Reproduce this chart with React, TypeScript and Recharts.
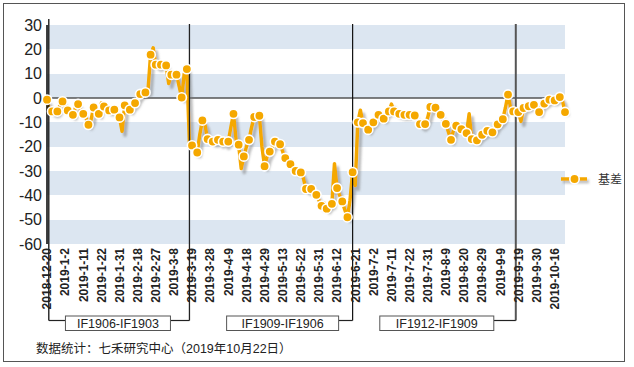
import { LineChart, Line, XAxis, YAxis, CartesianGrid, ReferenceLine } from 'recharts';

// trading days, month by month
const tradingMonths: [string, number[]][] = [
  ['2018-12', [20, 21, 24, 25, 26, 27, 28]],
  ['2019-1', [2, 3, 4, 7, 8, 9, 10, 11, 14, 15, 16, 17, 18, 21, 22, 23, 24, 25, 28, 29, 30, 31]],
  ['2019-2', [1, 11, 12, 13, 14, 15, 18, 19, 20, 21, 22, 25, 26, 27, 28]],
  ['2019-3', [1, 4, 5, 6, 7, 8, 11, 12, 13, 14, 15, 18, 19, 20, 21, 22, 25, 26, 27, 28, 29]],
  ['2019-4', [1, 2, 3, 4, 8, 9, 10, 11, 12, 15, 16, 17, 18, 19, 22, 23, 24, 25, 26, 29, 30]],
  ['2019-5', [6, 7, 8, 9, 10, 13, 14, 15, 16, 17, 20, 21, 22, 23, 24, 27, 28, 29, 30, 31]],
  ['2019-6', [3, 4, 5, 6, 10, 11, 12, 13, 14, 17, 18, 19, 20, 21, 24, 25, 26, 27, 28]],
  ['2019-7', [1, 2, 3, 4, 5, 8, 9, 10, 11, 12, 15, 16, 17, 18, 19, 22, 23, 24, 25, 26, 29, 30, 31]],
  ['2019-8', [1, 2, 5, 6, 7, 8, 9, 12, 13, 14, 15, 16, 19, 20, 21, 22, 23, 26, 27, 28, 29, 30]],
  ['2019-9', [2, 3, 4, 5, 6, 9, 10, 11, 12, 16, 17, 18, 19, 20, 23, 24, 25, 26, 27, 30]],
  ['2019-10', [8, 9, 10, 11, 14, 15, 16, 17, 18, 21, 22]],
];

// 基差
const basis = [
  -0.7, -5, -5.5, -6, -5.5, -3, -1.4, -4, -5.1, -6,
  -6.9, -4, -2.5, -5, -6.5, -8, -11, -9, -3.9, -5,
  -6.5, -2.1, -3.5, -4.5, -5.1, -5, -4.8, -6, -8, -13.7,
  -3, -4, -4.8, -3, -2.1, 0, 1.6, 2, 2.3, 3,
  17.8, 20.6, 13.7, 13, 13.7, 14.5, 13.4, 6, 9.6, 9.5,
  9.6, 5, 0.2, 10, 11.9, -19, -19.5, -22, -22.4, -15,
  -9.2, -11, -16.9, -17, -17.9, -18, -17.2, -18.5, -17.9, -19,
  -17.9, -12, -6.5, -17, -19.2, -29, -24, -20, -17.2, -12,
  -7.8, -7.5, -7.3, -20, -28, -24, -22, -20, -17.9, -19,
  -19, -22, -24.7, -26, -27.2, -29, -30, -30, -30.6, -33,
  -37.4, -38, -37.4, -38.5, -39.8, -42, -44.3, -43.2, -45.5, -44,
  -43.5, -27, -37, -40, -42.5, -46, -49, -42, -30.5, -36,
  -10, -5, -10.3, -11, -13, -11, -10, -8, -6.9, -7,
  -8.5, -6, -5.5, -2.5, -5.5, -6, -6.5, -7, -6.9, -7,
  -6.9, -6.5, -7.2, -9, -10.7, -11.5, -10.7, -8, -3.7, -4.8,
  -4, -5, -6.9, -9, -10.6, -14, -17.2, -13, -11.4, -12,
  -12.8, -14, -14.4, -6.5, -16.9, -17, -17.4, -16, -15.1, -14.5,
  -13.5, -14, -14.1, -12.5, -10.8, -10, -8.7, -4, 1.4, -4,
  -5.5, -5.5, -5.8, -9.6, -4.1, -4, -3.4, -3, -2.8, -4,
  -5.8, -3, -2.3, -1.5, -0.7, -1, -1, 0, 0.4, -1,
  -5.8,
];

const tickLabels = [
  '2018-12-20', '2019-1-2', '2019-1-11', '2019-1-22', '2019-1-31', '2019-2-18',
  '2019-2-27', '2019-3-8', '2019-3-19', '2019-3-28', '2019-4-9', '2019-4-18',
  '2019-4-29', '2019-5-13', '2019-5-22', '2019-5-31', '2019-6-12', '2019-6-21',
  '2019-7-2', '2019-7-11', '2019-7-22', '2019-7-31', '2019-8-9', '2019-8-20',
  '2019-8-29', '2019-9-9', '2019-9-19', '2019-9-30', '2019-10-16',
];

const yTicks = [30, 20, 10, 0, -10, -20, -30, -40, -50, -60];

// contract roll dates
const rollDates = ['2019-3-18', '2019-6-20', '2019-9-18'];
const contracts = ['IF1906-IF1903', 'IF1909-IF1906', 'IF1912-IF1909'];

const ORANGE = '#F5A800';
const BAND = '#DCE6F1';
const FONT = '"Liberation Sans", Arial, sans-serif';

const dates = tradingMonths.flatMap(([ym, days]) => days.map((d) => `${ym}-${d}`));
const data = dates.map((date, idx) => ({ idx, date, basis: basis[idx] }));
const tickIdx = tickLabels.map((l) => dates.indexOf(l));

// box placement under each roll line
const boxLayout = [
  { gap: 19, width: 105, stroke: '#222', sw: 1.3 },
  { gap: 14, width: 112, stroke: '#111', sw: 1.2 },
  { gap: 22, width: 114, stroke: '#555', sw: 2 },
];

const DateTick = ({ x, y, payload }: any) => (
  <text
    x={x}
    y={y}
    transform={`rotate(-90 ${x} ${y})`}
    textAnchor="end"
    dy="0.36em"
    fontSize={12}
    fontWeight="bold"
    fill="#222"
    fontFamily={FONT}
  >
    {dates[payload.value]}
  </text>
);

const renderDot = (p: any) =>
  p.index % 2 === 0 ? (
    <circle key={`dot-${p.index}`} cx={p.cx} cy={p.cy} r={4.7} fill={ORANGE} stroke="#fff" strokeWidth={1.6} />
  ) : (
    <g key={`dot-${p.index}`} />
  );

const RollLine = (props: any) => {
  const { x1, k } = props;
  const top = Math.min(props.y1, props.y2);
  const bottom = Math.max(props.y1, props.y2);
  const lay = boxLayout[k];
  const right = x1 - lay.gap;
  const left = right - lay.width;
  const boxTop = bottom + 72;
  const hy = bottom + 76.5;
  return (
    <g>
      <line x1={x1} y1={top - 1} x2={x1} y2={hy} stroke={lay.stroke} strokeWidth={lay.sw} />
      <line x1={right} y1={hy} x2={x1} y2={hy} stroke="#222" strokeWidth={1.2} />
      <rect x={left} y={boxTop} width={lay.width} height={14.5} fill="#fff" stroke="#555" strokeWidth={1} />
      <text x={(left + right) / 2} y={boxTop + 12} textAnchor="middle" fontSize={12.5} fill="#222" fontFamily={FONT}>
        {contracts[k]}
      </text>
    </g>
  );
};

const LeftBracket = (props: any) => {
  const { x1 } = props;
  const top = Math.min(props.y1, props.y2);
  const bottom = Math.max(props.y1, props.y2);
  const bx = x1 + 1.8;
  const hy = bottom + 76.5;
  return (
    <g>
      <line x1={bx} y1={top - 6} x2={bx} y2={hy} stroke="#111" strokeWidth={1.3} />
      <line x1={bx} y1={hy} x2={x1 + 18} y2={hy} stroke="#222" strokeWidth={1.2} />
    </g>
  );
};

export default function App() {
  return (
    <div style={{ position: 'absolute', left: 0, top: 0, width: 634, height: 367, background: '#fff', fontFamily: FONT }}>
      <div style={{ position: 'absolute', left: 3, top: 3, width: 620, height: 357, border: '1.5px solid #555' }} />
      <div style={{ position: 'absolute', left: 0, top: 0 }}>
        <LineChart width={634} height={367} data={data} margin={{ top: 25, right: 69, bottom: 43, left: 0 }}>
          <defs>
            <filter id="lineShadow" filterUnits="userSpaceOnUse" x={0} y={0} width={634} height={367}>
              <feDropShadow dx="3" dy="4" stdDeviation="1" floodColor="#777" floodOpacity="0.5" />
            </filter>
          </defs>
          <CartesianGrid vertical={false} stroke="none" horizontalFill={[BAND, '#fff']} />
          <XAxis
            dataKey="idx"
            type="number"
            domain={[0, dates.length - 1]}
            ticks={tickIdx}
            interval={0}
            height={80}
            axisLine={false}
            tickLine={false}
            tickSize={0}
            tickMargin={4}
            tick={<DateTick />}
          />
          <YAxis
            type="number"
            domain={[-60, 30]}
            ticks={yTicks}
            interval={0}
            width={47}
            axisLine={{ stroke: '#000', strokeWidth: 1.5 }}
            tickLine={false}
            tickSize={0}
            tickMargin={5}
            tick={{ fontSize: 16, fill: '#222', fontFamily: FONT }}
          />
          <ReferenceLine y={0} stroke="#555" strokeWidth={1.5} />
          <Line
            type="linear"
            dataKey="basis"
            stroke={ORANGE}
            strokeWidth={3.5}
            strokeLinejoin="round"
            filter="url(#lineShadow)"
            dot={renderDot}
            activeDot={false}
            isAnimationActive={false}
          />
          <ReferenceLine x={0} stroke="#111" shape={(p: any) => <LeftBracket {...p} />} />
          {rollDates.map((d, k) => (
            <ReferenceLine key={d} x={dates.indexOf(d)} stroke="#222" shape={(p: any) => <RollLine {...p} k={k} />} />
          ))}
        </LineChart>
      </div>
      <svg style={{ position: 'absolute', left: 556, top: 169 }} width={72} height={22}>
        <defs>
          <filter id="legendShadow" filterUnits="userSpaceOnUse" x={0} y={0} width={72} height={22}>
            <feDropShadow dx="2" dy="2.5" stdDeviation="0.8" floodColor="#777" floodOpacity="0.5" />
          </filter>
        </defs>
        <line x1={5} y1={10} x2={31} y2={10} stroke={ORANGE} strokeWidth={3.5} filter="url(#legendShadow)" />
        <circle cx={18.5} cy={10} r={4.7} fill={ORANGE} stroke="#fff" strokeWidth={1.6} />
        <text x={42} y={14.5} fontSize={12} fill="#333" fontFamily={'"Noto Sans CJK SC", sans-serif'}>
          基差
        </text>
      </svg>
      <div
        style={{
          position: 'absolute',
          left: 36,
          top: 338,
          fontSize: 12.5,
          color: '#222',
          whiteSpace: 'nowrap',
          fontFamily: '"Liberation Sans", "Noto Sans CJK SC", sans-serif',
        }}
      >
        数据统计：七禾研究中心（2019年10月22日）
      </div>
    </div>
  );
}
